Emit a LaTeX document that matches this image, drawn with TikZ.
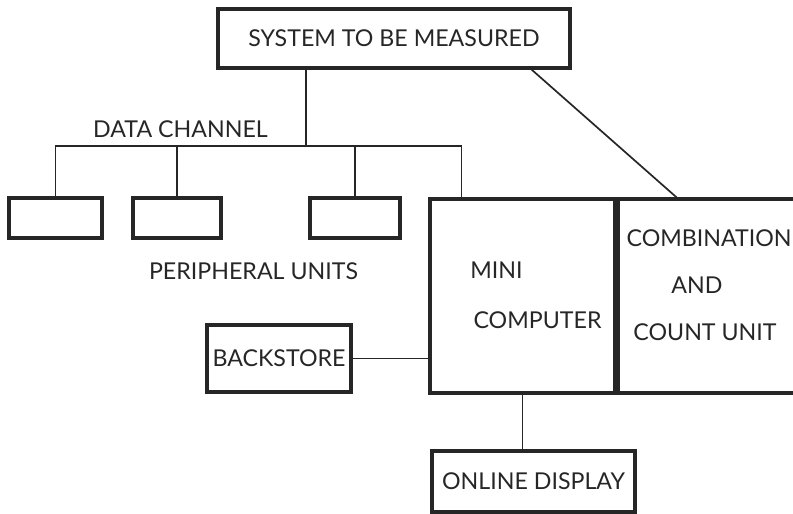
\documentclass[tikz,border=0pt]{standalone}
\usepackage{fontspec}
\setmainfont{Lato}
\usetikzlibrary{positioning}

\begin{document}
\begin{tikzpicture}[x=0.5pt,y=-0.5pt,
      every node/.style={font=\fontsize{11.6}{14}\selectfont,align=center,inner sep=0pt,text=black!85},
      box/.style={draw=black!85,line width=1.6pt},
      link/.style={draw=black!85,line width=0.85pt},
      lbl/.style={}]
      \clip (0,0) rectangle (793,514);
      \node[box,minimum width=176pt,minimum height=29.5pt] (system) at (394,38.5) {SYSTEM TO BE MEASURED};
      \node[box,minimum width=46.5pt,minimum height=20pt] (perA) at (55.5,218) {};
      \node[box,minimum width=44pt,minimum height=20pt] (perB) at (177,218) {};
      \node[box,minimum width=45pt,minimum height=20pt] (perC) at (355,218) {};
      \node[box,minimum width=92.5pt,minimum height=97pt] (mini) at (522.5,296) {};
      \node[box,minimum width=102.5pt,minimum height=97pt,anchor=west] (comb) at (mini.east) {};
      \node[box,minimum width=72pt,minimum height=33.5pt] (backstore) at (279,358.5) {BACKSTORE};
      \node[box,minimum width=101.5pt,minimum height=30.5pt] (online) at (533.5,481.5) {ONLINE DISPLAY};
      % texts without boxes
      \node[lbl] (datach) at (180.5,129) {DATA CHANNEL};
      \node[lbl] (periph) at (253.5,271) {PERIPHERAL UNITS};
      \node[lbl] (minitxt) at (496.5,270) {MINI};
      \node[lbl] (comptxt) at (537.5,320) {COMPUTER};
      \node[lbl,anchor=east] (combtxt) at (792,238) {COMBINATION};
      \node[lbl] (andtxt) at (697,285) {AND};
      \node[lbl,anchor=west] (counttxt) at (633,332) {COUNT UNIT};
      % data channel
      \coordinate (bus) at (306,146);
      \coordinate (drop) at ([xshift=16.5pt]mini.north west);
      \draw[link] (system.south -| bus) -- (bus);
      \draw[link] (perA.north) |- (bus);
      \draw[link] (perB.north) -- (perB.north |- bus);
      \draw[link] (perC.north) -- (perC.north |- bus);
      \draw[link] (drop) |- (bus);
      \draw[link] ([xshift=-20pt]system.south east) -- ([xshift=30pt]comb.north west);
      \draw[link] (backstore.east) -- (backstore.east -| mini.west);
      \draw[link] (mini.south) -- (mini.south |- online.north);
    \end{tikzpicture}
\end{document}
